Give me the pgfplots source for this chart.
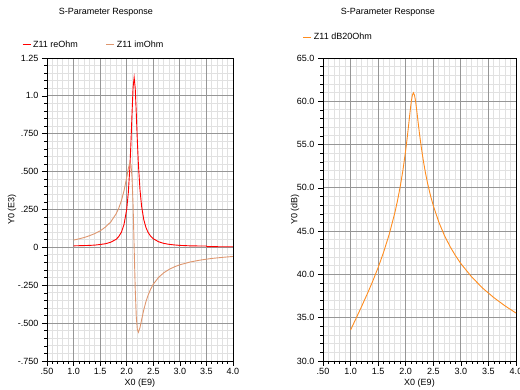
\documentclass[border=0pt]{standalone}
\usepackage{pgfplots}
\pgfplotsset{compat=1.18}
\usepackage{fontspec}
\setmainfont{Liberation Sans}
\definecolor{reC}{RGB}{255,0,0}
\definecolor{imC}{RGB}{222,150,110}
\definecolor{dbC}{RGB}{255,140,30}
\definecolor{majG}{RGB}{150,150,150}
\definecolor{minG}{RGB}{225,225,225}
\pgfplotsset{
  common/.style={
    scale only axis, anchor=south west,
    height=303pt,
    xmin=0.5, xmax=4.0,
    xtick={0.5,1,1.5,2,2.5,3,3.5,4},
    minor x tick num=4, minor y tick num=4,
  },
  bgstyle/.style={
    common,
    grid=minor,
    minor grid style={draw=minG, line width=0.9pt},
    axis line style={draw=none},
    xticklabels={}, yticklabels={},
    major tick length=0pt, minor tick length=0pt,
  },
  rfstyle/.style={
    common,
    grid=major,
    major grid style={draw=majG, line width=0.9pt},
    axis line style={black, line width=0.9pt},
    xticklabels={.50,1.0,1.5,2.0,2.5,3.0,3.5,4.0},
    tick pos=left, tick align=outside,
    major tick length=5pt, minor tick length=3pt,
    every tick/.style={black, line width=0.6pt},
    tick label style={font=\fontsize{9}{10}\selectfont},
    xticklabel style={yshift=1pt},
    label style={font=\fontsize{9}{10}\selectfont},
    xlabel={X0 (E9)},
    xlabel style={at={(axis description cs:0.5,-0.074)}, anchor=center},
    legend style={draw=none, fill=none, font=\fontsize{9}{10}\selectfont,
      inner sep=0pt, outer sep=0pt, anchor=west},
    legend columns=2,
    legend image code/.code={\draw[#1,line width=1pt] (0pt,0pt) -- (8pt,0pt);},
    /tikz/every even column/.append style={column sep=26pt},
  }
}
\begin{document}
\begin{tikzpicture}
\useasboundingbox (0pt,0pt) rectangle (520pt,390pt);
\node[font=\fontsize{9}{10}\selectfont] at (106pt,378pt) {S-Parameter Response};
\node[font=\fontsize{9}{10}\selectfont] at (388pt,378pt) {S-Parameter Response};
% left panel
\begin{axis}[bgstyle, at={(47pt,29pt)}, width=186pt,
  ymin=-0.75, ymax=1.25, ytick={-0.75,-0.5,-0.25,0,0.25,0.5,0.75,1.0,1.25}]
\end{axis}
\begin{axis}[rfstyle, at={(47pt,29pt)}, width=186pt,
  ymin=-0.75, ymax=1.25,
  ytick={-0.75,-0.5,-0.25,0,0.25,0.5,0.75,1.0,1.25},
  yticklabels={-.750,-.500,-.250,0,.250,.500,.750,1.0,1.25},
  ylabel={Y0 (E3)},
  ylabel style={at={(axis description cs:-0.188,0.5)}, anchor=center},
  legend style={at={(axis description cs:-0.134,1.043)}},
]
\addplot[reC, line width=0.9pt] coordinates {
(1.0,0.010)(1.1,0.011)(1.2,0.012)(1.3,0.013)(1.4,0.015)(1.5,0.019)(1.6,0.024)
(1.7,0.034)(1.8,0.053)(1.85,0.071)(1.9,0.100)(1.95,0.152)(2.0,0.252)(2.03,0.360)
(2.06,0.532)(2.08,0.694)(2.10,0.884)(2.12,1.056)(2.14,1.122)(2.16,1.052)(2.18,0.886)
(2.20,0.704)(2.22,0.548)(2.25,0.380)(2.28,0.272)(2.32,0.185)(2.36,0.133)(2.40,0.100)
(2.45,0.074)(2.5,0.057)(2.6,0.037)(2.7,0.026)(2.8,0.020)(2.9,0.016)(3.0,0.013)
(3.2,0.010)(3.4,0.009)(3.5,0.009)(3.51,0.005)(3.6,0.005)(3.8,0.004)(4.0,0.004)
};
\addlegendentry{Z11 reOhm}
\addplot[imC, line width=0.9pt] coordinates {
(1.0,0.048)(1.1,0.056)(1.2,0.065)(1.3,0.077)(1.4,0.091)(1.5,0.109)(1.6,0.134)
(1.7,0.168)(1.8,0.221)(1.85,0.258)(1.9,0.308)(1.95,0.375)(2.0,0.462)(2.03,0.520)
(2.06,0.559)(2.08,0.546)(2.10,0.462)(2.12,0.276)(2.14,0.0)(2.16,-0.273)(2.18,-0.458)
(2.20,-0.542)(2.22,-0.560)(2.25,-0.529)(2.28,-0.479)(2.32,-0.414)(2.36,-0.360)
(2.40,-0.318)(2.45,-0.276)(2.5,-0.243)(2.6,-0.198)(2.7,-0.167)(2.8,-0.145)
(2.9,-0.128)(3.0,-0.115)(3.2,-0.096)(3.4,-0.083)(3.6,-0.073)(3.8,-0.066)(4.0,-0.060)
};
\addlegendentry{Z11 imOhm}
\end{axis}
% right panel
\begin{axis}[bgstyle, at={(323pt,29pt)}, width=193pt,
  ymin=30, ymax=65, ytick={30,35,40,45,50,55,60,65}]
\end{axis}
\begin{axis}[rfstyle, at={(323pt,29pt)}, width=193pt,
  ymin=30, ymax=65,
  ytick={30,35,40,45,50,55,60,65},
  yticklabels={30.0,35.0,40.0,45.0,50.0,55.0,60.0,65.0},
  ylabel={Y0 (dB)},
  ylabel style={at={(axis description cs:-0.145,0.5)}, anchor=center},
  legend style={at={(axis description cs:-0.104,1.069)}},
]
\addplot[dbC, line width=0.9pt] coordinates {
(1.0,33.58)(1.1,34.93)(1.2,36.30)(1.3,37.71)(1.4,39.19)(1.5,40.80)(1.6,42.58)
(1.7,44.62)(1.8,47.05)(1.85,48.49)(1.9,50.14)(1.95,52.06)(2.0,54.36)(2.03,55.95)
(2.06,57.68)(2.08,58.85)(2.10,59.91)(2.12,60.69)(2.14,60.98)(2.16,60.69)(2.18,59.95)
(2.20,58.94)(2.22,57.85)(2.25,56.25)(2.28,54.80)(2.32,53.11)(2.36,51.67)(2.40,50.43)
(2.45,49.09)(2.5,47.95)(2.6,46.05)(2.7,44.53)(2.8,43.27)(2.9,42.19)(3.0,41.25)
(3.2,39.68)(3.4,38.39)(3.6,37.31)(3.8,36.37)(4.0,35.54)
};
\addlegendentry{Z11 dB20Ohm}
\end{axis}
\end{tikzpicture}
\end{document}
